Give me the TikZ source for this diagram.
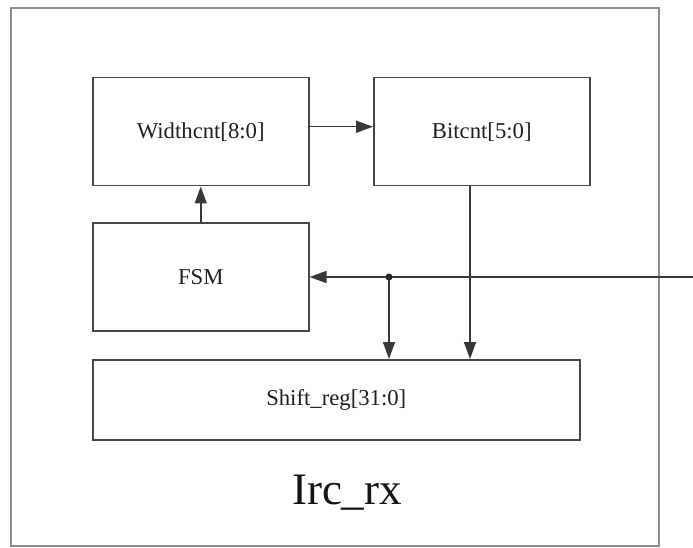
\documentclass[tikz,border=0pt]{standalone}
\usepackage{fontspec}
\setmainfont{Liberation Serif}
\usetikzlibrary{arrows.meta}
\begin{document}
\begin{tikzpicture}[x=1pt,y=-1pt,
  block/.style={draw=black!72,line width=1.5pt,anchor=north west,inner sep=0pt,
    text=black!88,font=\fontsize{22.7}{26}\selectfont},
  wire/.style={draw=black!78,line width=1.5pt},
  arr/.style={wire,-{Triangle[length=17pt,width=12pt]}},
  frame/.style={draw=black!45,line width=1.8pt}]
\useasboundingbox (0,0) rectangle (693,548);
% enclosing module
\draw[frame] (11,8) rectangle (659,546);
% blocks
\node[block,minimum width=216pt,minimum height=108pt] (wc) at (92,77) {Widthcnt[8:0]};
\node[block,minimum width=216pt,minimum height=108pt] (bc) at (373,77) {Bitcnt[5:0]};
\node[block,minimum width=216pt,minimum height=108pt] (fsm) at (92,222) {FSM};
\node[block,minimum width=487pt,minimum height=80pt] (sr) at (92,359) {Shift\_reg[31:0]};
% module name
\node[text=black!92,font=\fontsize{45}{50}\selectfont] (name) at (347,493) {Irc\_rx};
% input line and its junction
\coordinate (in) at (693,277);
\coordinate (j) at (389,277);
\coordinate (btap) at (470,0);
% connectors
\draw[arr] ([yshift=5pt]wc.east) -- ([yshift=5pt]bc.west);
\draw[arr] (fsm.north) -- (wc.south);
\draw[arr] (in) -- (in -| fsm.east);
\draw[arr] (j) -- (j |- sr.north);
\draw[arr] (btap |- bc.south) -- (btap |- sr.north);
\fill[black!85] (j) circle (3.5pt);
\end{tikzpicture}
\end{document}
